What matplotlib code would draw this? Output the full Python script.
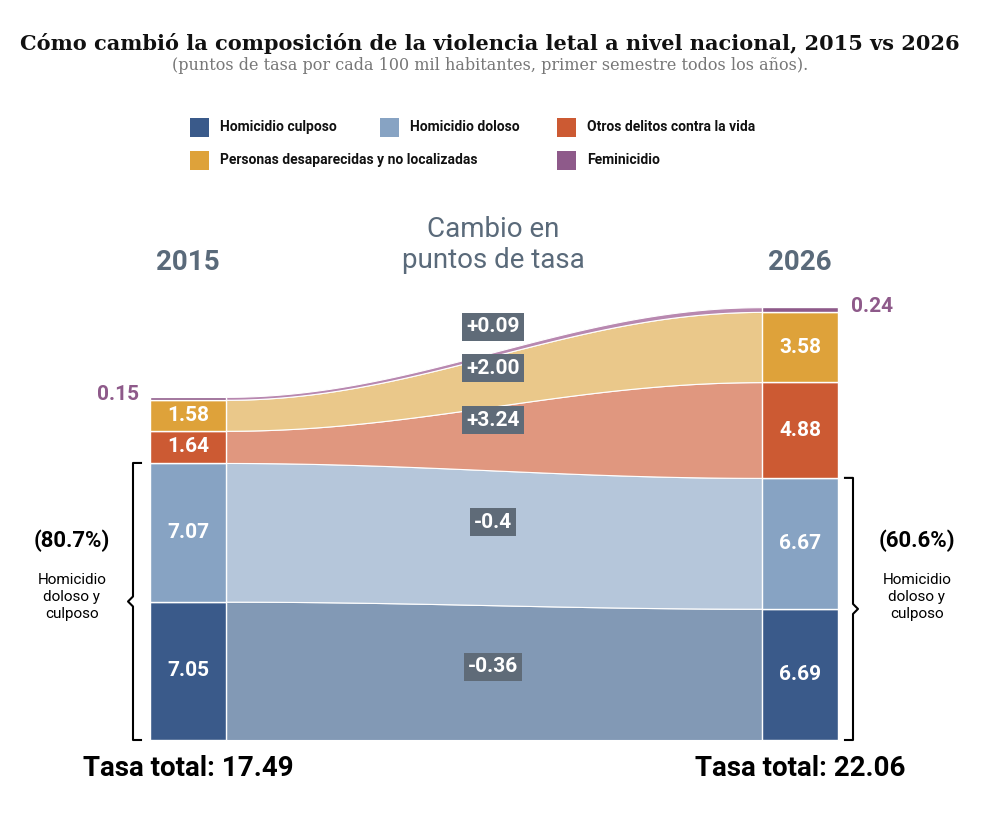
import matplotlib
matplotlib.use('Agg')
import matplotlib.pyplot as plt
import numpy as np
from matplotlib.patches import Rectangle

plt.rcParams['font.family'] = ['Roboto', 'DejaVu Sans']

categories = ['Homicidio culposo', 'Homicidio doloso', 'Otros delitos contra la vida',
              'Personas desaparecidas y no localizadas', 'Feminicidio']
v2015 = [7.05, 7.07, 1.64, 1.58, 0.15]
v2026 = [6.69, 6.67, 4.88, 3.58, 0.24]
changes = ['-0.36', '-0.4', '+3.24', '+2.00', '+0.09']
bar_colors = ['#3a5a8a', '#87a3c3', '#cc5a33', '#dea23a', '#8e5a8a']
flow_colors = ['#8299b5', '#b5c6da', '#e0977f', '#eac88a', '#b888b0']

fig = plt.figure(figsize=(10.02, 8.32), dpi=100)
ax = fig.add_axes([0, 0, 1, 1])
ax.set_xlim(0, 1002)
ax.set_ylim(832, 0)
ax.axis('off')

base = 740
scale = 19.62
lx0, lx1 = 150, 226
rx0, rx1 = 762, 838

c15 = np.concatenate([[0], np.cumsum(v2015)])
c26 = np.concatenate([[0], np.cumsum(v2026)])
xs = np.linspace(lx1, rx0, 200)
t = (1 - np.cos(np.pi * (xs - lx1) / (rx0 - lx1))) / 2

for i in range(5):
    lb, lt = base - c15[i] * scale, base - c15[i + 1] * scale
    rb, rt = base - c26[i] * scale, base - c26[i + 1] * scale
    yb = lb + (rb - lb) * t
    yt = lt + (rt - lt) * t
    ax.fill_between(xs, yb, yt, color=flow_colors[i], lw=0.8, edgecolor='white')
    ax.add_patch(Rectangle((lx0, lt), lx1 - lx0, lb - lt, fc=bar_colors[i], ec='white', lw=1))
    ax.add_patch(Rectangle((rx0, rt), rx1 - rx0, rb - rt, fc=bar_colors[i], ec='white', lw=1))
    if i < 4:
        ax.text((lx0 + lx1) / 2, (lb + lt) / 2, f'{v2015[i]:.2f}', color='white', fontsize=15,
                fontweight='bold', ha='center', va='center')
        ax.text((rx0 + rx1) / 2, (rb + rt) / 2, f'{v2026[i]:.2f}', color='white', fontsize=15,
                fontweight='bold', ha='center', va='center')

label_y = [667, 522, 420, 368, 327]
for i in range(5):
    ax.text(493, label_y[i], changes[i], color='white', fontsize=15, fontweight='bold',
            ha='center', va='center',
            bbox=dict(boxstyle='square,pad=0.2', fc='#5f6b78', ec='none'))
    # box width roughly
ax.text(118, 395, f'{v2015[4]:.2f}', color='#8e5a8a', fontsize=15, fontweight='bold', ha='center', va='center')
ax.text(872, 307, f'{v2026[4]:.2f}', color='#8e5a8a', fontsize=15, fontweight='bold', ha='center', va='center')

# titles
ax.text(490, 44, 'Cómo cambió la composición de la violencia letal a nivel nacional, 2015 vs 2026',
        fontsize=15, fontweight='bold', ha='center', va='center', family='DejaVu Serif', color='#111111')
ax.text(490, 66, '(puntos de tasa por cada 100 mil habitantes, primer semestre todos los años).',
        fontsize=11.5, ha='center', va='center', family='DejaVu Serif', color='#777777')

legend_pos = [(190, 127), (380, 127), (557, 127), (190, 160), (557, 160)]
for (x, y), name, c in zip(legend_pos, categories, bar_colors):
    ax.add_patch(Rectangle((x, y - 9), 19, 19, fc=c, ec='none'))
    ax.text(x + 30, y, name, fontsize=10, fontweight='bold', ha='left', va='center', color='#111111')

ax.text(188, 263, '2015', fontsize=20, fontweight='bold', color='#5a6a7a', ha='center', va='center')
ax.text(800, 263, '2026', fontsize=20, fontweight='bold', color='#5a6a7a', ha='center', va='center')
ax.text(493, 245, 'Cambio en\npuntos de tasa', fontsize=20, color='#5a6a7a', ha='center', va='center',
        linespacing=1.2)

ax.text(188, 768, 'Tasa total: 17.49', fontsize=20, fontweight='bold', ha='center', va='center')
ax.text(800, 768, 'Tasa total: 22.06', fontsize=20, fontweight='bold', ha='center', va='center')

# brackets
def bracket(x, y0, y1, d):
    m = (y0 + y1) / 2
    ax.plot([x + d * 8, x, x, x - d * 5, x, x, x + d * 8], [y0, y0, m - 5, m, m + 5, y1, y1],
            color='black', lw=1.5)

top_l = base - (v2015[0] + v2015[1]) * scale
top_r = base - (v2026[0] + v2026[1]) * scale
bracket(133, top_l, base, 1)
bracket(853, top_r, base, -1)
ax.text(72, 541, '(80.7%)', fontsize=16, fontweight='bold', ha='center', va='center')
ax.text(72, 597, 'Homicidio\ndoloso y\nculposo', fontsize=11, ha='center', va='center', linespacing=1.3)
ax.text(917, 541, '(60.6%)', fontsize=16, fontweight='bold', ha='center', va='center')
ax.text(917, 597, 'Homicidio\ndoloso y\nculposo', fontsize=11, ha='center', va='center', linespacing=1.3)

fig.savefig('out.png', dpi=100, facecolor='white')
